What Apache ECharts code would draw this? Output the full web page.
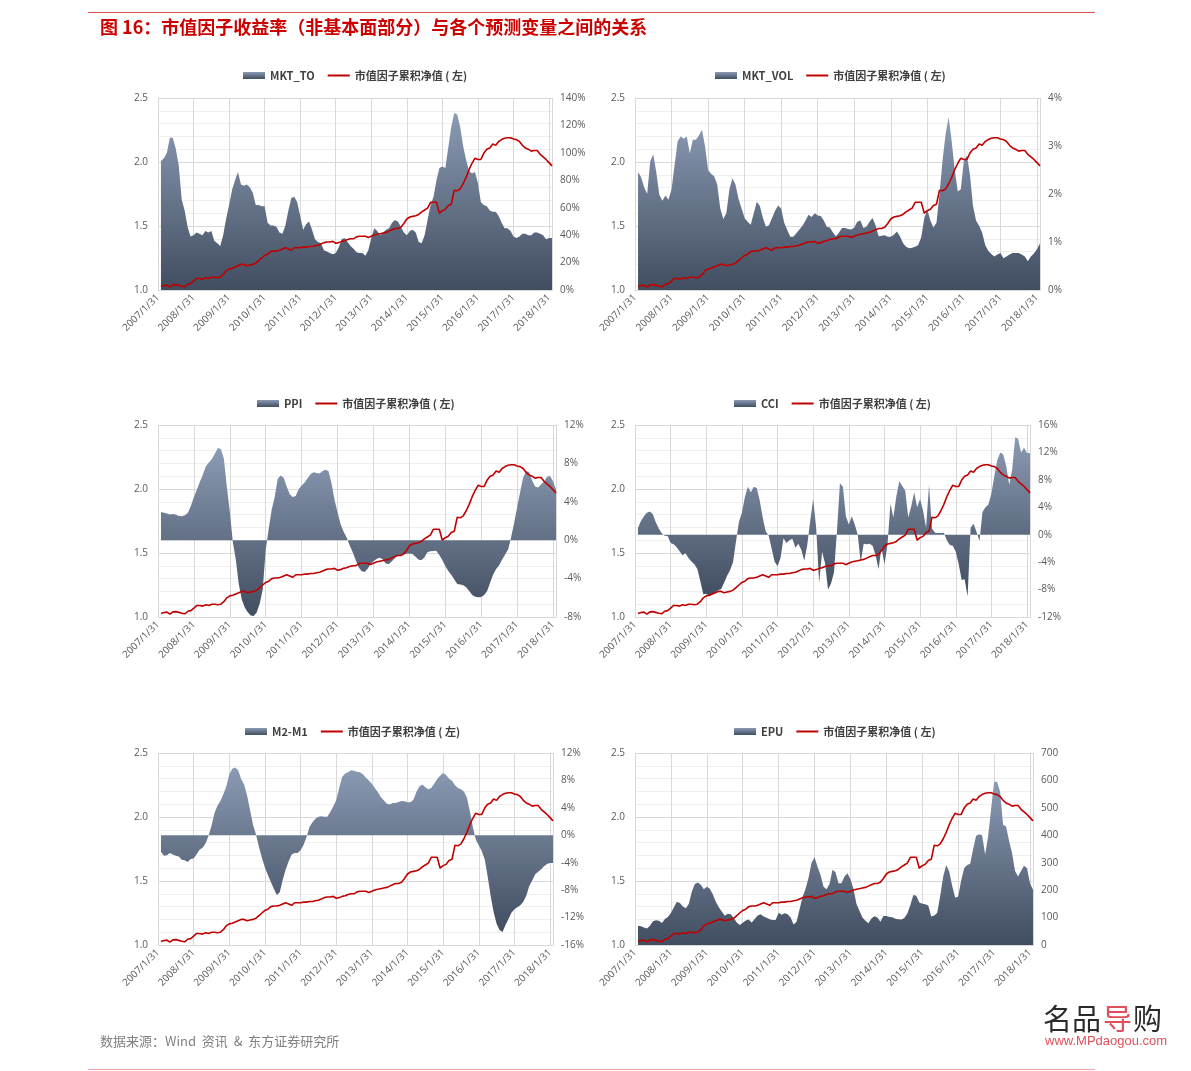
<!DOCTYPE html>
<html>
<head>
<meta charset="utf-8">
<script src="https://cdn.jsdelivr.net/npm/echarts@6/dist/echarts.min.js"></script>
<style>
html,body{margin:0;padding:0;background:#fff;}
#c{width:1191px;height:1071px;}
</style>
</head>
<body>
<div id="c"></div>
<script>
// Month-end category labels 2007/1/31 ... 2018/2/28
const categories = [];
for (let i = 0; i < 134; i++) {
  const y = 2007 + Math.floor(i / 12), m = i % 12 + 1;
  const d = new Date(y, m, 0).getDate();
  categories.push(y + '/' + m + '/' + d);
}

const lineName = '市值因子累积净值 ( 左)';

// 市值因子累积净值 (left axis)
const netValue = [null,
  1.028, 1.035, 1.038, 1.022, 1.04, 1.042, 1.036, 1.03, 1.025, 1.045, 1.05,
  1.07, 1.09, 1.09, 1.085, 1.095, 1.09, 1.10, 1.10, 1.095, 1.10, 1.12, 1.15,
  1.165, 1.17, 1.18, 1.19, 1.20, 1.20, 1.19, 1.195, 1.20, 1.21, 1.23, 1.25,
  1.27, 1.28, 1.30, 1.305, 1.305, 1.31, 1.32, 1.33, 1.32, 1.31, 1.33, 1.33,
  1.33, 1.335, 1.335, 1.34, 1.34, 1.345, 1.35, 1.36, 1.37, 1.375, 1.375, 1.38,
  1.365, 1.37, 1.38, 1.385, 1.395, 1.40, 1.40, 1.415, 1.42, 1.42, 1.42, 1.41,
  1.42, 1.43, 1.435, 1.44, 1.445, 1.45, 1.46, 1.47, 1.48, 1.48, 1.49, 1.52,
  1.555, 1.57, 1.575, 1.58, 1.59, 1.61, 1.625, 1.64, 1.685, 1.685, 1.685, 1.60,
  1.62, 1.63, 1.66, 1.67, 1.78, 1.775, 1.79, 1.83, 1.88, 1.94, 1.99, 2.03,
  2.02, 2.02, 2.07, 2.10, 2.11, 2.14, 2.13, 2.16, 2.175, 2.185, 2.19, 2.19,
  2.18, 2.175, 2.16, 2.13, 2.11, 2.10, 2.085, 2.09, 2.09, 2.06, 2.04, 2.02,
  1.995, 1.97];

// MKT_TO (%)
const mktTo = [null,
  94, 96, 100, 111, 111, 103, 91, 66, 58, 46, 39,
  40, 42, 41, 40, 43, 42, 43, 36, 34, 32, 40, 52,
  62, 73, 80, 86, 77, 76, 77, 75, 71, 62, 62, 61,
  61, 49, 47, 47, 46, 42, 41, 47, 58, 67, 68, 64,
  54, 44, 48, 50, 44, 37, 35, 34, 29, 28, 27, 26,
  27, 31, 37, 38, 35, 32, 30, 27.5, 27, 27, 25, 29,
  38, 45, 43, 40, 42, 44, 45, 49, 51, 50, 46, 42,
  40, 43, 44, 42, 35, 34, 40, 51, 62, 68, 80, 89,
  90, 89, 104, 119, 129, 128, 119, 105, 95, 87, 85, 86,
  78, 64, 62, 61, 58, 57, 57, 54, 49, 45, 45, 43,
  39, 38, 39, 41, 41, 40, 40, 42, 42, 41, 40, 37,
  38, 38];

// MKT_VOL (%)
const mktVol = [null,
  2.46, 2.35, 2.14, 2.0, 2.68, 2.83, 2.45, 1.98, 1.86, 1.97, 1.88,
  2.1, 2.6, 3.1, 3.2, 3.15, 3.2, 2.85, 3.13, 3.13, 3.22, 3.34, 2.99,
  2.5, 2.42, 2.37, 2.2, 1.7, 1.48, 1.6, 2.1, 2.33, 2.2, 1.9, 1.7,
  1.5, 1.42, 1.36, 1.6, 1.84, 1.75, 1.5, 1.32, 1.35, 1.5, 1.65, 1.76,
  1.7, 1.4, 1.25, 1.11, 1.11, 1.18, 1.26, 1.34, 1.45, 1.57, 1.52, 1.6,
  1.55, 1.54, 1.45, 1.31, 1.3, 1.2, 1.12, 1.2, 1.29, 1.29, 1.27, 1.26,
  1.3, 1.42, 1.45, 1.29, 1.32, 1.42, 1.5, 1.35, 1.12, 1.13, 1.14, 1.11,
  1.11, 1.15, 1.22, 1.12, 0.98, 0.9, 0.87, 0.88, 0.9, 0.94, 1.1, 1.5,
  1.67, 1.45, 1.3, 1.4, 2.0, 2.7, 3.25, 3.6, 3.1, 2.5, 2.05, 2.1,
  2.7, 2.8, 2.4, 1.75, 1.45, 1.34, 1.2, 0.94, 0.82, 0.75, 0.7, 0.74,
  0.77, 0.66, 0.7, 0.74, 0.77, 0.77, 0.77, 0.74, 0.7, 0.6, 0.7, 0.76,
  0.85, 0.97];

// PPI (%)
const ppi = [null,
  2.95, 2.85, 2.77, 2.67, 2.74, 2.65, 2.52, 2.5, 2.6, 2.85, 3.6,
  4.5, 5.27, 6.1, 6.85, 7.7, 8.1, 8.45, 9.0, 9.6, 9.5, 8.5, 5.6,
  3.0, -0.2, -2.0, -4.6, -6.17, -7.0, -7.5, -7.85, -7.9, -7.5, -6.6, -5.1,
  -1.0, 1.2, 3.2, 4.5, 6.4, 6.75, 6.5, 5.6, 4.8, 4.5, 4.6, 5.3,
  5.7, 6.0, 6.45, 6.9, 7.07, 7.0, 6.95, 7.2, 7.35, 7.17, 5.9, 4.2,
  2.9, 1.7, 0.9, 0.3, -0.5, -1.2, -2.0, -2.8, -3.2, -3.3, -3.0, -2.5,
  -2.18, -1.95, -1.84, -1.95, -2.4, -2.5, -2.25, -1.9, -1.64, -1.55, -1.49, -1.4,
  -1.39, -1.45, -1.7, -2.0, -2.1, -1.8, -1.25, -1.15, -1.12, -1.11, -1.55, -2.05,
  -2.7, -3.2, -3.6, -4.1, -4.55, -4.61, -4.7, -4.9, -5.3, -5.7, -5.9, -5.93,
  -5.92, -5.7, -5.3, -4.4, -3.57, -3.0, -2.6, -2.0, -1.5, -0.97, 0.3, 1.8,
  3.4, 5.0, 6.5, 7.2, 7.1, 6.25, 5.6, 5.5, 5.8, 6.1, 6.6, 6.7,
  6.14, 5.3];

// CCI (%)
const cci = [null,
  0.97, 2.0, 2.7, 3.2, 3.4, 3.0, 1.8, 0.9, 0.2, -0.15, -0.2,
  -1.2, -1.4, -1.8, -2.4, -3.0, -2.7, -3.4, -3.9, -4.3, -5.0, -6.8, -8.7,
  -8.6, -8.9, -8.8, -8.4, -8.1, -7.9, -7.0, -6.0, -5.2, -4.0, -1.0, 1.9,
  3.2, 5.5, 7.0, 6.2, 7.0, 6.8, 5.0, 2.5, 0.5, -0.1, -2.0, -3.9,
  -4.6, -3.4, -0.5, -1.2, -0.8, -0.6, -1.9, -1.3, -2.2, -3.8, -1.5, 2.0,
  5.2, 1.0, -7.0, -2.5, -4.2, -8.0, -7.1, -5.5, 0.5, 7.5, 7.0, 2.7,
  1.5, 2.7, 1.5, 0.0, -4.0, -1.3, -1.4, -1.3, -1.6, -3.0, -5.0, -1.9,
  -4.3, -1.5, 4.5, 2.5, 5.6, 7.8, 7.1, 6.4, 2.5, 4.1, 6.2, 4.0,
  5.2, 3.5, 1.0, 7.3, 0.9, 0.3, 0.25, 0.25, 0.3, -0.8, -1.5, -1.6,
  -2.5, -4.3, -6.6, -6.5, -9.0, 1.0, 1.6, 0.4, -0.9, 3.3, 4.0, 4.4,
  6.0, 8.6, 10.9, 12.0, 11.7, 10.0, 7.3, 9.5, 14.2, 14.0, 12.0, 12.7,
  11.9, 11.9];

// M2-M1 (%)
const m2m1 = [null,
  -2.4, -3.0, -2.9, -2.6, -2.8, -3.0, -3.1, -3.55, -3.64, -3.9, -3.45,
  -3.4, -2.75, -2.1, -1.8, -1.2, -0.1, 1.4, 3.2, 4.3, 5.0, 6.0, 7.1,
  8.9, 9.7, 9.9, 9.5, 8.2, 7.4, 5.8, 3.7, 1.5, 0.1, -1.7, -3.3,
  -4.7, -5.8, -6.8, -7.8, -8.7, -8.3, -6.5, -5.0, -3.8, -2.8, -2.57, -2.57,
  -2.2, -1.4, -0.3, 1.2, 1.9, 2.4, 2.7, 2.77, 2.7, 2.7, 3.4, 4.2,
  5.1, 6.9, 8.5, 9.0, 9.2, 9.5, 9.4, 9.25, 9.2, 8.9, 8.4, 8.0,
  7.5, 6.9, 6.3, 5.6, 5.1, 4.65, 4.5, 4.7, 4.7, 4.85, 5.0, 4.97,
  4.8, 4.8, 5.2, 6.3, 7.1, 7.4, 7.0, 6.7, 6.9, 7.5, 8.2, 8.7,
  9.1, 8.8, 8.25, 7.95, 7.3, 6.9, 6.7, 6.4, 5.5, 3.5, 1.2, -0.63,
  -1.45, -2.3, -3.5, -6.0, -8.8, -11.2, -12.9, -13.8, -14.1, -13.1, -12.2, -11.3,
  -10.8, -10.5, -10.2, -9.7, -8.8, -7.4, -6.6, -5.7, -5.3, -4.95, -4.5, -4.2,
  -4.03, -4.03];

// EPU
const epu = [null,
  70, 68, 64, 60, 70, 87, 90, 88, 80, 95, 102,
  117, 138, 158, 153, 140, 134, 150, 195, 222, 228, 220, 203,
  212, 205, 185, 158, 138, 122, 107, 114, 112, 98, 82, 73,
  81, 89, 93, 82, 95, 108, 112, 104, 99, 94, 91, 91,
  118, 110, 116, 112, 100, 75, 85, 130, 175, 205, 245, 300,
  320, 285, 255, 212, 203, 222, 274, 265, 225, 225, 250, 262,
  240, 205, 150, 125, 100, 88, 79, 97, 105, 100, 85, 106,
  106, 102, 101, 96, 94, 93, 98, 115, 145, 182, 180, 155,
  150, 149, 144, 104, 108, 118, 180, 250, 292, 268, 215, 172,
  177, 235, 280, 292, 296, 350, 398, 404, 400, 330, 396, 495,
  595, 595, 560, 438, 432, 380, 335, 270, 250, 270, 289, 280,
  225, 201];

const panels = [
  { name: 'MKT_TO',  data: mktTo,  min: 0,   max: 140, interval: 20,  fmt: '{value}%', grid: { left: 158, top: 98,  width: 394, height: 192 }, lx: 243, ly: 70 },
  { name: 'MKT_VOL', data: mktVol, min: 0,   max: 4,   interval: 1,   fmt: '{value}%', grid: { left: 635, top: 98,  width: 405, height: 192 }, lx: 715, ly: 70 },
  { name: 'PPI',     data: ppi,    min: -8,  max: 12,  interval: 4,   fmt: '{value}%', grid: { left: 158, top: 425, width: 398, height: 192 }, lx: 257, ly: 398 },
  { name: 'CCI',     data: cci,    min: -12, max: 16,  interval: 4,   fmt: '{value}%', grid: { left: 635, top: 425, width: 395, height: 192 }, lx: 734, ly: 398 },
  { name: 'M2-M1',   data: m2m1,   min: -16, max: 12,  interval: 4,   fmt: '{value}%', grid: { left: 158, top: 753, width: 395, height: 192 }, lx: 245, ly: 726 },
  { name: 'EPU',     data: epu,    min: 0,   max: 700, interval: 100, fmt: '{value}',  grid: { left: 635, top: 753, width: 398, height: 192 }, lx: 734, ly: 726 }
];

const FONT = "'Open Sans','Noto Sans CJK SC',sans-serif";
const CJK = "'Noto Sans CJK SC','Open Sans',sans-serif";
const axisText = { fontSize: 10, color: '#595959', fontFamily: FONT };
const grad = () => new echarts.graphic.LinearGradient(0, 0, 0, 1, [
  { offset: 0, color: '#8b9bb4' },
  { offset: 1, color: '#414d60' }
]);

const grids = [], xAxes = [], yAxes = [], series = [], legends = [];
panels.forEach((p, i) => {
  grids.push(Object.assign({ containLabel: false, outerBoundsMode: 'none' }, p.grid));
  xAxes.push({
    type: 'category', gridIndex: i, data: categories, boundaryGap: false,
    axisLine: { show: true, onZero: false, lineStyle: { color: '#d9d9d9' } },
    axisTick: { show: false, interval: idx => idx % 12 === 0 },
    axisLabel: Object.assign({ interval: idx => idx % 12 === 0, rotate: 45, margin: 6 }, axisText),
    splitLine: { show: true, interval: idx => idx % 12 === 0, lineStyle: { color: '#d9d9d9', width: 1 } }
  });
  yAxes.push({
    type: 'value', gridIndex: i, position: 'left', min: 1, max: 2.5, interval: 0.5,
    axisLine: { show: true, lineStyle: { color: '#d9d9d9' } },
    axisTick: { show: false },
    axisLabel: Object.assign({ margin: 10, formatter: v => v.toFixed(1) }, axisText),
    splitLine: { show: true, lineStyle: { color: '#d9d9d9' } },
    minorTick: { show: false, splitNumber: 5 },
    minorSplitLine: { show: true, lineStyle: { color: '#efefef' } }
  });
  yAxes.push({
    type: 'value', gridIndex: i, position: 'right', min: p.min, max: p.max, interval: p.interval,
    axisLine: { show: true, onZero: false, lineStyle: { color: '#d9d9d9' } },
    axisTick: { show: false },
    axisLabel: Object.assign({ margin: 8, formatter: p.fmt }, axisText),
    splitLine: { show: false }
  });
  series.push({
    name: p.name, type: 'line', xAxisIndex: i, yAxisIndex: 2 * i + 1,
    data: p.data, symbol: 'none', showSymbol: false, z: 2,
    lineStyle: { width: 0, opacity: 0 },
    itemStyle: { color: grad() },
    areaStyle: { color: grad(), opacity: 1, origin: 'auto' }
  });
  series.push({
    name: lineName, type: 'line', xAxisIndex: i, yAxisIndex: 2 * i,
    data: netValue, symbol: 'none', showSymbol: false, z: 3,
    lineStyle: { color: '#c00000', width: 1.6 },
    itemStyle: { color: '#c00000' }
  });
  legends.push({
    left: p.lx, top: p.ly, padding: 0, orient: 'horizontal', itemWidth: 22, itemHeight: 7, itemGap: 12,
    selectedMode: false,
    data: [
      { name: p.name, icon: 'rect' },
      { name: lineName, itemStyle: { opacity: 0 }, lineStyle: { color: '#c00000', width: 2 } }
    ],
    textStyle: { fontSize: 11, fontWeight: 'bold', color: '#404040', fontFamily: CJK }
  });
});

const graphics = [
  { type: 'line', shape: { x1: 88, y1: 12.5, x2: 1095, y2: 12.5 }, style: { stroke: '#d9534f', lineWidth: 1 } },
  { type: 'text', left: 100, top: 18, style: { text: '图 16：市值因子收益率（非基本面部分）与各个预测变量之间的关系', fill: '#cc0000', font: "bold 18px 'Noto Sans CJK SC'" } },
  { type: 'text', left: 100, top: 1035, style: { text: '数据来源：Wind  资讯  &  东方证券研究所', fill: '#808080', font: "13px 'Noto Sans CJK SC'" } },
  { type: 'line', shape: { x1: 88, y1: 1069.5, x2: 1095, y2: 1069.5 }, style: { stroke: '#f0a8a8', lineWidth: 1 } },
  { type: 'text', left: 1043, top: 1004, style: { text: '名品', fill: '#2b2b2b', font: "29px 'Noto Sans CJK SC'" } },
  { type: 'text', left: 1103, top: 1004, style: { text: '导', fill: '#e0505a', font: "29px 'Noto Sans CJK SC'" } },
  { type: 'text', left: 1133, top: 1004, style: { text: '购', fill: '#2b2b2b', font: "29px 'Noto Sans CJK SC'" } },
  { type: 'text', left: 1045, top: 1035, style: { text: 'www.MPdaogou.com', fill: '#e0505a', font: "13px 'Liberation Sans'" } }
];

const chart = echarts.init(document.getElementById('c'), null, { renderer: 'canvas', width: 1191, height: 1071 });
chart.setOption({
  backgroundColor: '#ffffff',
  animation: false,
  textStyle: { fontFamily: FONT },
  grid: grids,
  xAxis: xAxes,
  yAxis: yAxes,
  legend: legends,
  series: series,
  graphic: graphics
});
</script>
</body>
</html>
